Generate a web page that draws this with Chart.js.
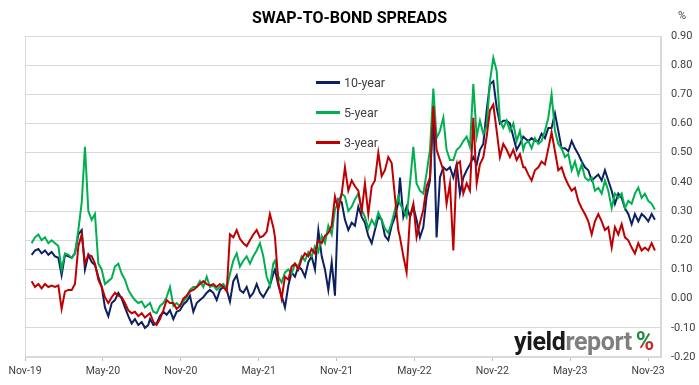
<!DOCTYPE html>
<html>
<head>
    <title>Swap-to-Bond Spreads</title>
    <script src="https://cdn.jsdelivr.net/npm/chart.js"></script>
    <style>
        body {
            margin: 0;
            background-color: #ffffff;
            font-family: 'Roboto', sans-serif;
        }
        #wrap {
            position: relative;
            width: 699px;
            height: 385px;
        }
        #title {
            position: absolute;
            left: 0;
            top: 8px;
            width: 699px;
            text-align: center;
            font-size: 16px;
            line-height: 20px;
            font-weight: bold;
            color: #000;
        }
        #unit {
            position: absolute;
            left: 678px;
            top: 9px;
            font-size: 11px;
            color: #404040;
        }
        .legend-row {
            position: absolute;
            left: 316px;
            height: 20px;
            display: flex;
            align-items: center;
            font-size: 12.5px;
            color: #404040;
        }
        .legend-row span.swatch {
            display: inline-block;
            width: 24px;
            height: 3px;
            margin-right: 4px;
        }
        #logo {
            position: absolute;
            left: 514px;
            top: 329px;
            font-size: 25px;
            line-height: 25px;
            font-weight: bold;
            letter-spacing: -0.4px;
            white-space: nowrap;
        }
        #logo .y { color: #1a1a1a; }
        #logo .r { color: #7f7f7f; }
        #logo .pct {
            background: linear-gradient(160deg, #1f8a3b 55%, #c8262d 55%);
            -webkit-background-clip: text;
            background-clip: text;
            color: transparent;
            margin-left: 4px;
        }
    </style>
</head>
<body>
<div id="wrap">
    <canvas id="spreadChart"></canvas>
    <div id="title">SWAP-TO-BOND SPREADS</div>
    <div id="unit">%</div>
    <div id="legend"></div>
    <div id="logo"><span class="y">yield</span><span class="r">report</span><span class="pct">%</span></div>
</div>
<script>
    // months since 1 Nov 2019 (sampling points)
    const months = [
        0.51,0.77,1.03,1.28,1.54,1.80,2.05,2.31,2.57,2.82,3.08,3.34,3.60,3.85,4.11,4.37,4.62,4.88,5.14,5.39,
        5.65,5.91,6.16,6.42,6.68,6.93,7.19,7.45,7.70,7.96,8.22,8.47,8.73,8.99,9.24,9.50,
        9.63,9.89,10.14,10.40,10.66,10.91,11.17,11.43,11.68,11.94,12.20,12.45,12.71,12.97,13.23,13.48,13.74,14.00,14.25,
        14.51,14.77,15.02,15.28,15.54,15.79,16.05,16.31,16.56,16.82,17.08,17.33,17.59,17.85,18.10,18.36,18.62,18.87,19.13,
        19.26,19.52,19.77,20.03,20.29,20.54,20.80,21.06,21.31,21.57,21.83,22.08,22.34,22.60,22.86,23.11,23.37,23.63,23.88,
        24.14,24.40,24.65,24.91,25.17,25.42,25.68,25.94,26.19,26.45,26.71,26.96,27.22,27.48,27.73,27.99,28.25,28.50,28.76,
        28.89,29.15,29.40,29.66,29.92,30.17,30.43,30.69,30.94,31.20,31.46,31.71,31.97,32.23,32.48,32.74,33.00,33.26,33.51,
        33.77,34.03,34.28,34.54,34.80,35.05,35.31,35.57,35.82,36.08,36.34,36.59,36.85,37.11,37.36,37.62,37.88,38.13,38.39,
        38.52,38.78,39.03,39.29,39.55,39.80,40.06,40.32,40.57,40.83,41.09,41.34,41.60,41.86,42.12,42.37,42.63,42.89,43.14,43.40,
        43.66,43.91,44.17,44.43,44.68,44.94,45.20,45.45,45.71,45.97,46.22,46.48,46.74,46.99,47.25,47.51,47.76,48.02,48.28,48.53
    ];

    const tenYear = [
        0.15,0.165,0.17,0.155,0.165,0.15,0.16,0.145,0.14,0.08,0.15,0.145,0.14,0.155,0.22,0.235,0.10,0.15,0.125,0.115,
        0.075,0.04,-0.03,-0.06,-0.015,-0.005,0.02,0.00,-0.03,-0.06,-0.085,-0.07,-0.09,-0.08,-0.10,-0.09,
        -0.07,-0.09,-0.085,-0.06,-0.045,-0.055,-0.04,-0.07,-0.045,-0.04,-0.02,-0.01,0.01,-0.045,-0.015,-0.005,0.005,0.02,0.03,
        0.02,-0.005,0.03,0.04,0.03,-0.01,0.06,0.08,0.03,0.02,0.04,0.005,0.02,0.05,0.02,0.005,0.025,0.045,0.085,
        0.10,0.045,0.01,-0.03,0.045,0.09,0.075,0.11,0.10,0.075,0.125,0.145,0.10,0.235,0.145,0.10,0.03,0.125,0.01,
        0.34,0.33,0.27,0.235,0.26,0.25,0.315,0.28,0.26,0.215,0.19,0.235,0.28,0.27,0.215,0.20,0.25,0.28,0.33,
        0.415,0.28,0.315,0.28,0.315,0.27,0.21,0.245,0.35,0.405,0.645,0.21,0.415,0.45,0.44,0.45,0.415,0.46,0.36,
        0.415,0.44,0.46,0.485,0.46,0.51,0.53,0.645,0.735,0.745,0.655,0.60,0.61,0.61,0.60,0.555,0.51,0.53,0.555,
        0.55,0.54,0.55,0.54,0.54,0.565,0.55,0.585,0.585,0.635,0.575,0.515,0.515,0.505,0.54,0.515,0.495,0.47,0.45,0.44,
        0.405,0.415,0.425,0.405,0.44,0.405,0.37,0.325,0.36,0.345,0.31,0.29,0.255,0.29,0.265,0.29,0.28,0.265,0.29,0.27
    ];

    const fiveYear = [
        0.19,0.21,0.22,0.20,0.21,0.19,0.20,0.19,0.18,0.10,0.155,0.15,0.14,0.155,0.235,0.33,0.52,0.30,0.27,0.29,
        0.12,0.10,0.05,0.06,0.07,0.11,0.12,0.085,0.065,0.03,0.01,-0.005,-0.015,-0.01,-0.03,-0.02,
        -0.015,-0.045,-0.05,-0.025,-0.015,0.005,0.04,-0.025,-0.015,-0.025,-0.01,0.005,0.03,0.04,0.04,0.06,0.04,0.075,0.04,
        0.045,0.03,0.04,0.05,0.035,0.085,0.13,0.155,0.11,0.13,0.145,0.12,0.145,0.165,0.19,0.145,0.075,0.045,0.12,
        0.13,0.075,0.055,0.09,0.10,0.085,0.12,0.11,0.145,0.13,0.16,0.145,0.18,0.16,0.215,0.19,0.25,0.22,0.305,
        0.33,0.36,0.35,0.30,0.315,0.34,0.36,0.305,0.28,0.24,0.27,0.25,0.295,0.27,0.24,0.225,0.26,0.305,0.35,
        0.325,0.305,0.28,0.395,0.52,0.395,0.37,0.36,0.43,0.51,0.72,0.55,0.575,0.62,0.51,0.475,0.475,0.51,0.52,
        0.54,0.555,0.52,0.735,0.555,0.61,0.565,0.59,0.745,0.825,0.78,0.61,0.585,0.61,0.575,0.60,0.54,0.575,0.51,
        0.53,0.54,0.515,0.55,0.53,0.54,0.575,0.62,0.70,0.575,0.53,0.515,0.485,0.495,0.44,0.47,0.425,0.46,0.415,0.405,
        0.415,0.37,0.38,0.36,0.405,0.37,0.31,0.36,0.345,0.36,0.31,0.335,0.325,0.36,0.38,0.345,0.36,0.335,0.325,0.305
    ];

    const threeYear = [
        0.06,0.04,0.05,0.035,0.05,0.04,0.045,0.04,0.045,-0.035,0.025,0.03,0.03,0.05,0.18,0.22,0.12,0.15,0.145,0.12,
        0.065,0.04,0.005,-0.015,0.005,0.02,0.01,0.005,-0.015,-0.04,-0.05,-0.045,-0.06,-0.05,-0.065,-0.055,
        -0.05,-0.08,-0.09,-0.07,-0.04,-0.005,-0.015,-0.015,-0.035,-0.025,0.0,0.01,0.025,0.03,0.04,0.05,0.06,0.05,0.045,
        0.05,0.04,0.05,0.04,0.025,0.22,0.21,0.235,0.205,0.19,0.18,0.20,0.22,0.235,0.21,0.215,0.23,0.29,0.245,
        0.21,0.055,0.0,0.075,0.065,0.11,0.12,0.10,0.135,0.155,0.145,0.17,0.155,0.20,0.19,0.215,0.225,0.25,0.35,
        0.305,0.36,0.45,0.37,0.405,0.385,0.37,0.30,0.395,0.29,0.385,0.405,0.50,0.42,0.44,0.485,0.465,0.35,0.235,
        0.21,0.145,0.09,0.28,0.325,0.21,0.26,0.305,0.385,0.415,0.66,0.51,0.475,0.44,0.325,0.395,0.165,0.46,0.47,
        0.36,0.395,0.37,0.62,0.395,0.46,0.485,0.555,0.645,0.665,0.575,0.485,0.53,0.51,0.485,0.51,0.475,0.495,0.45,
        0.45,0.425,0.405,0.44,0.45,0.47,0.46,0.515,0.57,0.505,0.44,0.45,0.415,0.39,0.37,0.38,0.335,0.31,0.29,0.265,
        0.22,0.265,0.29,0.265,0.235,0.245,0.175,0.245,0.22,0.255,0.21,0.20,0.175,0.155,0.19,0.165,0.175,0.165,0.19,0.165
    ];

    const seriesNames = ["10-year", "5-year", "3-year"];
    const seriesColors = ["#0c1f63", "#00b050", "#c00000"];

    const xTickMonths = [0, 6, 12, 18, 24, 30, 36, 42, 48];
    const xTickLabels = ["Nov-19", "May-20", "Nov-20", "May-21", "Nov-21", "May-22", "Nov-22", "May-23", "Nov-23"];
    const yTickValues = [-0.2, -0.1, 0, 0.1, 0.2, 0.3, 0.4, 0.5, 0.6, 0.7, 0.8, 0.9];

    const allSeries = [tenYear, fiveYear, threeYear];

    var datasets = allSeries.map(function (values, i) {
        return {
            label: seriesNames[i],
            data: values.map(function (v, j) { return { x: months[j], y: v }; }),
            borderColor: seriesColors[i],
            backgroundColor: seriesColors[i],
            borderWidth: 2,
            pointRadius: 0,
            tension: 0,
            order: 3 - i
        };
    });

    // grey box round the plot area
    const plotBorder = {
        id: "plotBorder",
        beforeDatasetsDraw(chart) {
            const a = chart.chartArea;
            const c = chart.ctx;
            c.save();
            c.strokeStyle = "#d9d9d9";
            c.lineWidth = 1;
            c.strokeRect(a.left + 0.5, a.top + 0.5, a.right - a.left - 1, a.bottom - a.top - 1);
            c.restore();
        }
    };

    var ctx = document.getElementById("spreadChart").getContext("2d");
    var spreadChart = new Chart(ctx, {
        type: "line",
        data: { datasets: datasets },
        options: {
            responsive: true,
            maintainAspectRatio: false,
            animation: false,
            layout: { padding: { left: 25, top: 36, right: 0, bottom: 0 } },
            plugins: {
                legend: { display: false },
                tooltip: { enabled: false }
            },
            scales: {
                x: {
                    type: "linear",
                    min: 0,
                    max: 49,
                    afterBuildTicks: function (axis) {
                        axis.ticks = xTickMonths.map(function (v) { return { value: v }; });
                    },
                    afterFit: function (axis) { axis.height = 28; },
                    grid: {
                        drawOnChartArea: false,
                        drawTicks: true,
                        tickLength: 4,
                        color: "#bfbfbf"
                    },
                    border: { color: "#d9d9d9" },
                    ticks: {
                        autoSkip: false,
                        maxRotation: 0,
                        padding: 4,
                        color: "#404040",
                        font: { family: "Roboto", size: 10.5 },
                        callback: function (value) {
                            return xTickLabels[xTickMonths.indexOf(value)];
                        }
                    }
                },
                y: {
                    position: "right",
                    min: -0.2,
                    max: 0.9,
                    afterBuildTicks: function (axis) {
                        axis.ticks = yTickValues.map(function (v) { return { value: v }; });
                    },
                    afterFit: function (axis) { axis.width = 38; },
                    grid: {
                        color: "#d9d9d9",
                        drawTicks: false
                    },
                    border: { color: "#d9d9d9" },
                    ticks: {
                        padding: 10,
                        color: "#404040",
                        font: { family: "Roboto", size: 11 },
                        callback: function (value) {
                            return Number(value).toFixed(2);
                        }
                    }
                }
            }
        },
        plugins: [plotBorder]
    });

    // legend sits inside the plot area
    var legend = document.getElementById("legend");
    seriesNames.forEach(function (name, i) {
        var row = document.createElement("div");
        row.className = "legend-row";
        row.style.top = (72 + i * 30) + "px";
        var sw = document.createElement("span");
        sw.className = "swatch";
        sw.style.backgroundColor = seriesColors[i];
        row.appendChild(sw);
        var txt = document.createElement("span");
        txt.textContent = name;
        row.appendChild(txt);
        legend.appendChild(row);
    });
</script>
</body>
</html>
